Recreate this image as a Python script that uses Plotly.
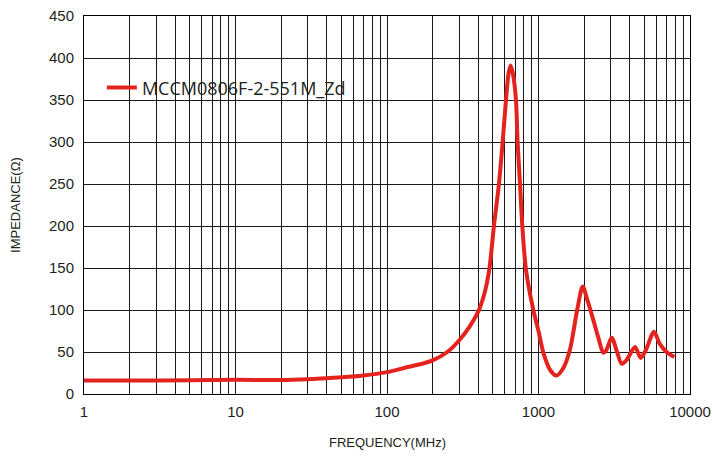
import plotly.graph_objects as go

freq_mhz = [1, 2, 5, 10, 20, 30, 50, 70, 100, 130, 170, 200, 250, 300, 350, 400, 440, 473,
            508, 548, 580, 610, 635, 655, 680, 710, 728, 755, 782, 827, 924, 1000, 1077,
            1200, 1318, 1450, 1614, 1800, 1958, 2100, 2302, 2500, 2680, 2800, 3040, 3300,
            3540, 3800, 4335, 4720, 5100, 5785, 6300, 7010, 7880]
impedance = [16, 16, 16.5, 17, 16.6, 17.6, 19.8, 22, 26, 31, 36, 40, 50, 64, 80, 98, 120, 148,
             200, 250, 300, 350, 382, 391, 380, 350, 300, 250, 200, 148, 100, 75, 49,
             28, 22, 30, 53, 100, 128, 112, 88, 65, 49, 52, 67, 50,
             36, 40, 56, 43, 52, 74, 60, 50, 44]
series_name = "MCCM0806F-2-551M_Zd"
x_title = "FREQUENCY(MHz)"
y_title = "IMPEDANCE(Ω)"

decades = [1, 10, 100, 1000, 10000]
x_tickvals = []
x_ticktext = []
for d in decades[:-1]:
    for m in range(1, 10):
        x_tickvals.append(d * m)
        x_ticktext.append(str(d) if m == 1 else "")
x_tickvals.append(decades[-1])
x_ticktext.append(str(decades[-1]))

y_tickvals = [0, 50, 100, 150, 200, 250, 300, 350, 400, 450]

fig = go.Figure()
fig.add_trace(go.Scatter(
    x=freq_mhz, y=impedance, mode="lines", name=series_name,
    line=dict(color="#e4231f", width=4, shape="spline", smoothing=0.8),
))

fig.update_layout(
    width=713, height=457,
    margin=dict(l=84, r=23, t=16, b=63, autoexpand=False),
    paper_bgcolor="white", plot_bgcolor="white",
    font=dict(family="Liberation Sans, Arial, sans-serif", color="#231f20"),
    showlegend=True,
    legend=dict(x=0.0295, y=0.81, xanchor="left", yanchor="middle",
                bgcolor="rgba(0,0,0,0)", font=dict(size=18, family="Open Sans, sans-serif"),
                itemwidth=30),
    xaxis=dict(
        type="log", range=[0, 4], tickvals=x_tickvals, ticktext=x_ticktext,
        showgrid=True, gridcolor="#1a1a1a", gridwidth=1,
        showline=True, linecolor="black", linewidth=1, mirror=True,
        ticks="outside", ticklen=4, tickcolor="rgba(0,0,0,0)",
        tickfont=dict(size=15), zeroline=False, automargin=False,
    ),
    yaxis=dict(
        range=[0, 450], tickvals=y_tickvals,
        showgrid=True, gridcolor="#1a1a1a", gridwidth=1,
        showline=True, linecolor="black", linewidth=1, mirror=True,
        ticks="outside", ticklen=6, tickcolor="rgba(0,0,0,0)",
        tickfont=dict(size=15), zeroline=False, automargin=False,
    ),
    annotations=[
        dict(text=x_title, xref="paper", yref="paper", x=0.5, y=-0.1296,
             xanchor="center", yanchor="middle", showarrow=False,
             font=dict(size=13)),
        dict(text=y_title, xref="paper", yref="paper", x=-0.114, y=0.5,
             xanchor="center", yanchor="middle", showarrow=False, textangle=-90,
             font=dict(size=13)),
    ],
)

fig.write_html("out.html", config={"displayModeBar": False},
               post_script="document.body.style.margin='0';")
